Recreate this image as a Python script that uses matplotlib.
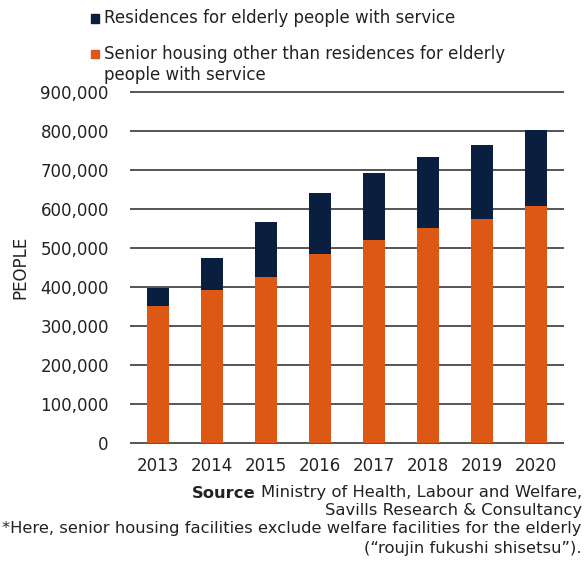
import matplotlib.pyplot as plt
import numpy as np

plt.rcParams['font.family'] = ['DejaVu Sans']

# data (people)
years = ['2013', '2014', '2015', '2016', '2017', '2018', '2019', '2020']
senior_other = [351000, 392000, 426000, 484000, 519000, 551000, 575000, 608000]
with_service = [47000, 83000, 141000, 157000, 174000, 182000, 188000, 195000]
yticks = [0, 100000, 200000, 300000, 400000, 500000, 600000, 700000, 800000, 900000]

navy = '#0a1e40'
orange = '#dd5814'
grid_col = '#555555'
txt = '#222222'

W, H = 584, 561
fig = plt.figure(figsize=(W / 100, H / 100), dpi=100)
ax = fig.add_axes([131 / W, 1 - 442.7 / H, (563 - 131) / W, (442.7 - 92) / H])

x = np.arange(len(years))
ax.bar(x, senior_other, width=0.4, color=orange, zorder=3)
ax.bar(x, with_service, width=0.4, bottom=senior_other, color=navy, zorder=3)

ax.set_xlim(-0.5, len(years) - 0.5)
ax.set_ylim(0, 900000)
ax.set_yticks(yticks)
ax.set_yticklabels(['{:,}'.format(v) for v in yticks])
ax.set_xticks(x)
ax.set_xticklabels(years)
for v in yticks:
    ax.axhline(v, color=grid_col, lw=1.4, zorder=1, clip_on=False)

for s in ax.spines.values():
    s.set_visible(False)
ax.tick_params(axis='both', length=0, labelsize=12, colors=txt)
ax.tick_params(axis='y', pad=16)
ax.tick_params(axis='x', pad=10)
ax.set_ylabel('PEOPLE', fontsize=12, color=txt)
ax.yaxis.set_label_coords(20 / W, 1 - 267.5 / H, transform=fig.transFigure)
ax.yaxis.label.set_va('center')

# legend drawn by hand
fig.patches.append(plt.Rectangle((90.5 / W, 1 - 22.5 / H), 8 / W, 8 / H,
                                 transform=fig.transFigure, color=navy))
fig.text(104 / W, 1 - 18 / H, 'Residences for elderly people with service',
         fontsize=12, va='center', color=txt)
fig.patches.append(plt.Rectangle((90.5 / W, 1 - 58 / H), 8 / W, 8 / H,
                                 transform=fig.transFigure, color=orange))
fig.text(104 / W, 1 - 54 / H, 'Senior housing other than residences for elderly',
         fontsize=12, va='center', color=txt)
fig.text(104 / W, 1 - 75 / H, 'people with service',
         fontsize=12, va='center', color=txt)

# source notes
src = fig.text(582 / W, 1 - 493 / H, 'Ministry of Health, Labour and Welfare,',
               fontsize=11.8, ha='right', va='center', color=txt)
fig.canvas.draw()
bb = src.get_window_extent()
fig.text((bb.x0 - 5) / W, 1 - 493 / H, 'Source', fontsize=11.8, fontweight='bold',
         ha='right', va='center', color=txt)
fig.text(582 / W, 1 - 511 / H, 'Savills Research & Consultancy',
         fontsize=11.8, ha='right', va='center', color=txt)
fig.text(582 / W, 1 - 529 / H,
         '*Here, senior housing facilities exclude welfare facilities for the elderly',
         fontsize=11.8, ha='right', va='center', color=txt)
fig.text(582 / W, 1 - 549 / H, '(\u201croujin fukushi shisetsu\u201d).',
         fontsize=11.8, ha='right', va='center', color=txt)

fig.savefig('out.png', dpi=100)
